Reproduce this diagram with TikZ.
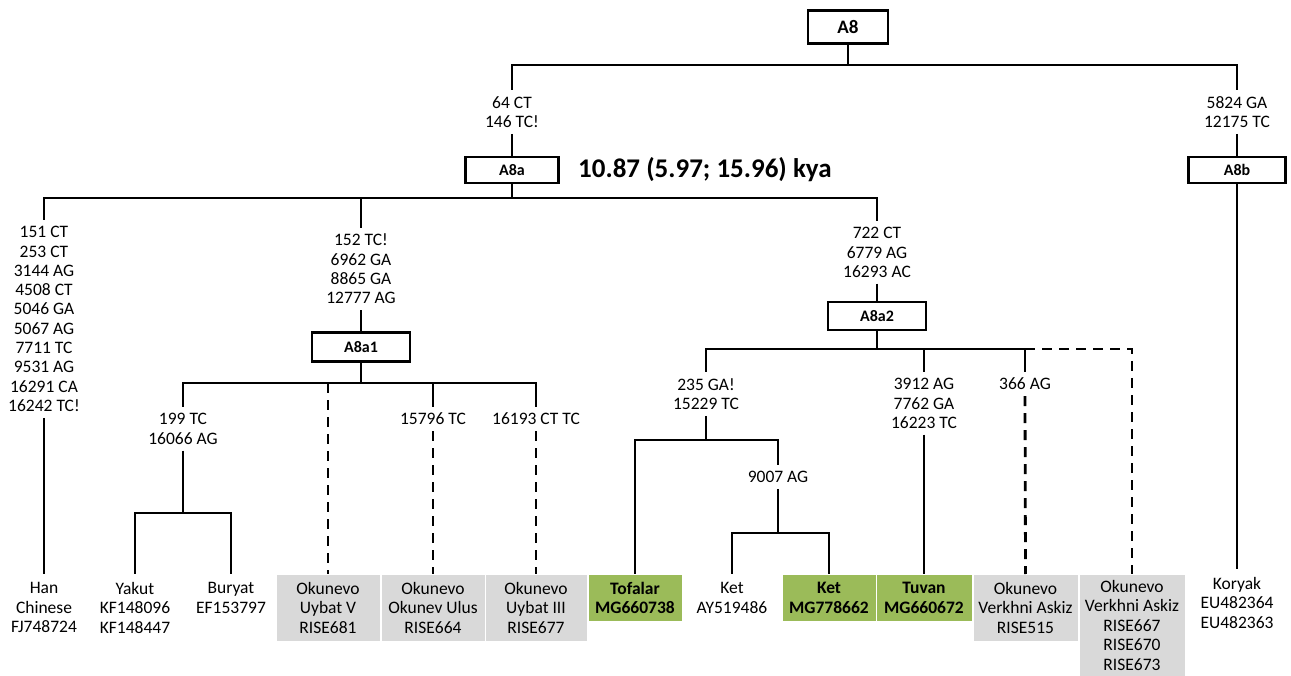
\documentclass[tikz,border=0pt]{standalone}
\usepackage{fontspec}
\setmainfont{Carlito}
\definecolor{boxgrey}{HTML}{D9D9D9}
\definecolor{boxgreen}{HTML}{9BBB59}
\begin{document}
\begin{tikzpicture}[x=1pt,y=-1pt,
  br/.style={line width=2.8pt},
  dsh/.style={line width=2.8pt, dash pattern=on 10pt off 7pt},
  hbox/.style={draw, line width=2.8pt, font=\fontsize{16}{18}\selectfont\bfseries, inner sep=0pt},
  mut/.style={font=\fontsize{17.5}{19.3}\selectfont, align=center, inner xsep=2pt, inner ysep=6pt},
  leaf/.style={font=\fontsize{17.5}{19.5}\selectfont, align=center, inner sep=0pt, anchor=north},
  greybox/.style={leaf, fill=boxgrey, draw=white, line width=0.8pt},
  greenbox/.style={leaf, fill=boxgreen, draw=white, line width=0.8pt, font=\fontsize{17.5}{19.5}\selectfont\bfseries},
]
\useasboundingbox (0,0) rectangle (1291,676);

% haplogroup boxes
\node[hbox, minimum width=80pt, minimum height=33pt, font=\fontsize{19}{22}\selectfont\bfseries] (A8) at (848,27) {A8};
\node[hbox, minimum width=93pt, minimum height=26pt] (A8a) at (512,170) {A8a};
\node[hbox, minimum width=97pt, minimum height=26pt] (A8b) at (1237,170) {A8b};
\node[hbox, minimum width=98pt, minimum height=29pt] (A8a1) at (361,347) {A8a1};
\node[hbox, minimum width=98pt, minimum height=28pt] (A8a2) at (877,316) {A8a2};
\node[anchor=west, font=\fontsize{27}{30}\selectfont\bfseries, inner sep=0pt] (date) at (578,170) {10.87 (5.97; 15.96) kya};

% mutation labels
\node[mut] (m64) at (512,112) {64 CT\\146 TC!};
\node[mut] (m5824) at (1237,112) {5824 GA\\12175 TC};
\node[mut] (m151) at (44,319) {151 CT\\253 CT\\3144 AG\\4508 CT\\5046 GA\\5067 AG\\7711 TC\\9531 AG\\16291 CA\\16242 TC!};
\node[mut] (m152) at (361,269) {152 TC!\\6962 GA\\8865 GA\\12777 AG};
\node[mut] (m722) at (877,252.5) {722 CT\\6779 AG\\16293 AC};
\node[mut] (m199) at (183,429) {199 TC\\16066 AG};
\node[mut] (m15796) at (433,419) {15796 TC};
\node[mut] (m16193) at (536,419) {16193 CT TC};
\node[mut] (m235) at (706,394) {235 GA!\\15229 TC};
\node[mut] (m3912) at (924,403.5) {3912 AG\\7762 GA\\16223 TC};
\node[mut] (m366) at (1025,384) {366 AG};
\node[mut] (m9007) at (778,477) {9007 AG};

% leaves
\node[leaf, minimum height=67pt] (han) at (44,574) {Han\\Chinese\\FJ748724};
\node[leaf, minimum height=67pt] (yakut) at (135,574) {Yakut\\KF148096\\KF148447};
\node[leaf, minimum height=47pt] (buryat) at (231,574) {Buryat\\EF153797};
\node[greybox, minimum width=104pt, minimum height=67pt] (ok1) at (328,574) {Okunevo\\Uybat V\\RISE681};
\node[greybox, minimum width=104pt, minimum height=67pt] (ok2) at (433,574) {Okunevo\\Okunev Ulus\\RISE664};
\node[greybox, minimum width=102pt, minimum height=67pt] (ok3) at (536,574) {Okunevo\\Uybat III\\RISE677};
\node[greenbox, minimum width=94pt, minimum height=47pt] (tof) at (635,574) {Tofalar\\MG660738};
\node[leaf, minimum height=47pt] (ketay) at (732,574) {Ket\\AY519486};
\node[greenbox, minimum width=94pt, minimum height=47pt] (ketmg) at (829,574) {Ket\\MG778662};
\node[greenbox, minimum width=96pt, minimum height=47pt] (tuv) at (924,574) {Tuvan\\MG660672};
\node[greybox, minimum width=105pt, minimum height=67pt] (ok4) at (1025.5,574) {Okunevo\\Verkhni Askiz\\RISE515};
\node[greybox, minimum width=106pt, minimum height=102pt] (ok5) at (1132,574) {Okunevo\\Verkhni Askiz\\RISE667\\RISE670\\RISE673};
\node[leaf, minimum height=67pt] (kor) at (1237,569) {Koryak\\EU482364\\EU482363};

% junctions
\coordinate (h0) at (848,65);
\coordinate (h1) at (512,198);
\coordinate (h2) at (361,383);
\coordinate (h3) at (183,513);
\coordinate (h4) at (877,349);
\coordinate (h5) at (706,440);
\coordinate (h6) at (778,533);

% connectors
\draw[br] (A8.south) -- (h0);
\draw[br] (h0) -| (m64.north);
\draw[br] (h0) -| (m5824.north);
\draw[br] (m64.south) -- (A8a.north);
\draw[br] (m5824.south) -- (A8b.north);
\draw[br] (A8b.south) -- (kor.north);

\draw[br] (A8a.south) -- (h1);
\draw[br] (h1) -| (m151.north);
\draw[br] (h1) -| (m152.north);
\draw[br] (h1) -| (m722.north);
\draw[br] (m151.south) -- (han.north);
\draw[br] (m152.south) -- (A8a1.north);
\draw[br] (m722.south) -- (A8a2.north);

\draw[br] (A8a1.south) -- (h2);
\draw[br] (h2) -| (m199.north);
\draw[br] (h2) -| (m15796.north);
\draw[br] (h2) -| (m16193.north);
\draw[dsh] (ok1.north |- h2) -- (ok1.north);
\draw[dsh] (m15796.south) -- (ok2.north);
\draw[dsh] (m16193.south) -- (ok3.north);
\draw[br] (m199.south) -- (h3);
\draw[br] (h3) -| (yakut.north);
\draw[br] (h3) -| (buryat.north);

\draw[br] (A8a2.south) -- (h4);
\draw[br] (h4) -| (m235.north);
\draw[br] (h4) -| (m3912.north);
\draw[br] (h4) -| (m366.north);
\draw[dsh] (m366.north |- h4) -| (ok5.north);
\draw[dsh] (m366.south) -- (ok4.north);
\draw[br] (m3912.south) -- (tuv.north);
\draw[br] (m235.south) -- (h5);
\draw[br] (h5) -| (tof.north);
\draw[br] (h5) -| (m9007.north);
\draw[br] (m9007.south) -- (h6);
\draw[br] (h6) -| (ketay.north);
\draw[br] (h6) -| (ketmg.north);
\end{tikzpicture}
\end{document}
